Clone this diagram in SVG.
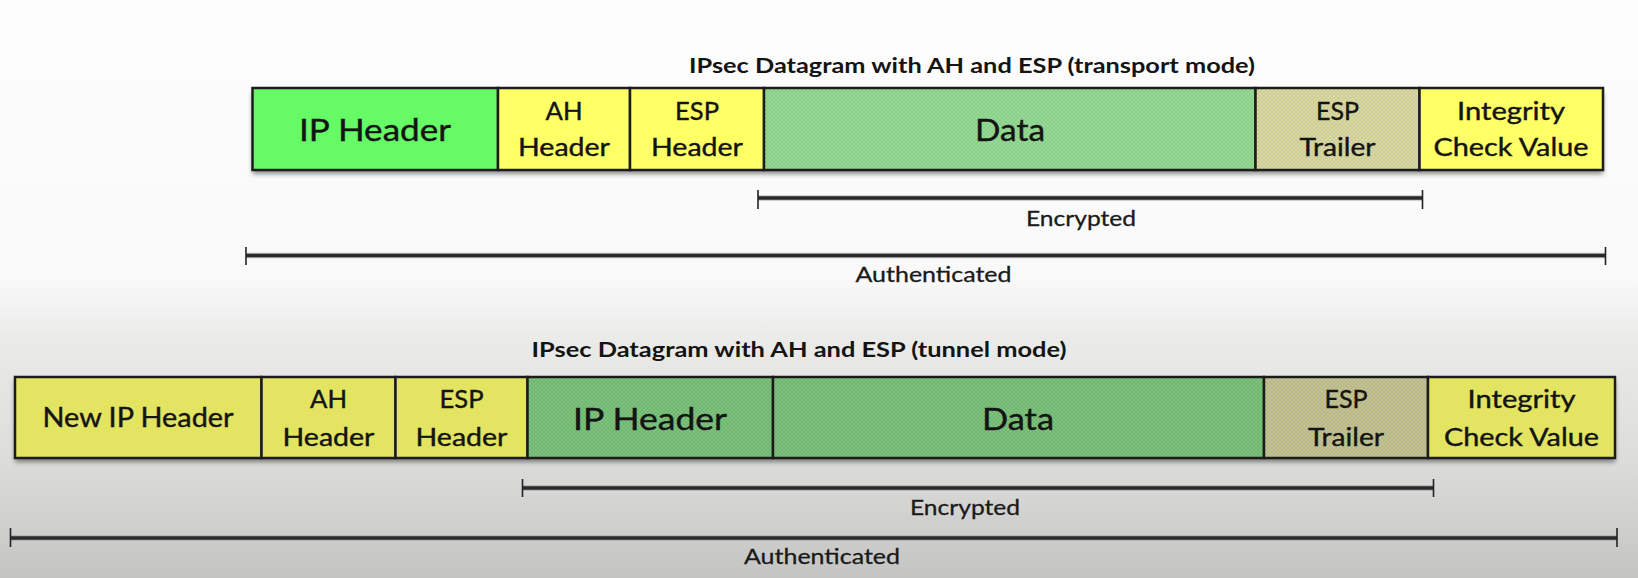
<svg xmlns="http://www.w3.org/2000/svg" width="1638" height="578" viewBox="0 0 1638 578">
<defs>
<linearGradient id="bg" x1="0" y1="0" x2="0" y2="1">
<stop offset="0" stop-color="#fdfdfd"/>
<stop offset="0.48" stop-color="#f9f9f9"/>
<stop offset="0.58" stop-color="#ebecea"/>
<stop offset="0.8" stop-color="#dcdddb"/>
<stop offset="1" stop-color="#c4c5c3"/>
</linearGradient>
<pattern id="pgT" width="4" height="4" patternUnits="userSpaceOnUse"><rect width="4" height="4" fill="#98dc98"/><path d="M0 0L4 4M4 0L0 4" stroke="#82c882" stroke-width="0.8"/></pattern>
<pattern id="pkT" width="4" height="4" patternUnits="userSpaceOnUse"><rect width="4" height="4" fill="#dcdc9c"/><path d="M0 0L4 4M4 0L0 4" stroke="#bcbc9e" stroke-width="0.6"/></pattern>
<pattern id="pgB" width="4" height="4" patternUnits="userSpaceOnUse"><rect width="4" height="4" fill="#7fc57f"/><path d="M0 0L4 4M4 0L0 4" stroke="#6aae6a" stroke-width="0.8"/></pattern>
<pattern id="pkB" width="4" height="4" patternUnits="userSpaceOnUse"><rect width="4" height="4" fill="#c6c68c"/><path d="M0 0L4 4M4 0L0 4" stroke="#a8a892" stroke-width="0.6"/></pattern>
<filter id="sh" x="-5%" y="-20%" width="110%" height="150%">
<feDropShadow dx="0" dy="4" stdDeviation="2.5" flood-color="#000" flood-opacity="0.45"/>
</filter>
<style>
.cell{stroke:#1c1c1c;stroke-width:2.5}
.t{font-family:Lato,"Liberation Sans",sans-serif;fill:#141414;stroke:#141414;stroke-width:0.4;text-anchor:middle}
.big{font-size:30px}
.sm{font-size:25px}
.ttl{font-family:Lato,"Liberation Sans",sans-serif;font-weight:bold;font-size:21px;fill:#141414;text-anchor:middle}
.lbl{font-family:Lato,"Liberation Sans",sans-serif;font-size:21px;fill:#1a1a1a;stroke:#1a1a1a;stroke-width:0.3;text-anchor:middle}
.bar{stroke:#2a2a2a;stroke-width:3.5;fill:none}
.barhi{stroke:#888;stroke-width:5.5;fill:none;opacity:0.5}
.tick{stroke:#222;stroke-width:1.6}
</style>
</defs>
<rect width="1638" height="578" fill="url(#bg)"/>

<text class="ttl" x="972" y="73" textLength="566" lengthAdjust="spacingAndGlyphs">IPsec Datagram with AH and ESP (transport mode)</text>
<g id="transport-row">
<rect x="252.5" y="88" width="1350.5" height="82" fill="#333" filter="url(#sh)"/>
<g id="t-ipheader"><rect class="cell" x="252.5" y="88" width="245.5" height="82" fill="#66fb66"/><text class="t big" x="375" y="141" textLength="152" lengthAdjust="spacingAndGlyphs">IP Header</text></g>
<g id="t-ahheader"><rect class="cell" x="498" y="88" width="132" height="82" fill="#ffff66"/><text class="t sm" x="564" y="120" textLength="37" lengthAdjust="spacingAndGlyphs">AH</text><text class="t sm" x="564" y="156" textLength="92" lengthAdjust="spacingAndGlyphs">Header</text></g>
<g id="t-espheader"><rect class="cell" x="630" y="88" width="134" height="82" fill="#ffff66"/><text class="t sm" x="697" y="120" textLength="44" lengthAdjust="spacingAndGlyphs">ESP</text><text class="t sm" x="697" y="156" textLength="92" lengthAdjust="spacingAndGlyphs">Header</text></g>
<g id="t-data"><rect class="cell" x="764" y="88" width="491.5" height="82" fill="url(#pgT)"/><text class="t big" x="1010" y="141" textLength="70" lengthAdjust="spacingAndGlyphs">Data</text></g>
<g id="t-esptrailer"><rect class="cell" x="1255.5" y="88" width="164" height="82" fill="url(#pkT)"/><text class="t sm" x="1337.5" y="120" textLength="43" lengthAdjust="spacingAndGlyphs">ESP</text><text class="t sm" x="1337.5" y="156" textLength="76" lengthAdjust="spacingAndGlyphs">Trailer</text></g>
<g id="t-icv"><rect class="cell" x="1419.5" y="88" width="183.5" height="82" fill="#ffff66"/><text class="t sm" x="1511" y="120" textLength="108" lengthAdjust="spacingAndGlyphs">Integrity</text><text class="t sm" x="1511" y="156" textLength="155" lengthAdjust="spacingAndGlyphs">Check Value</text></g>
</g>

<text class="ttl" x="799" y="356.5" textLength="535" lengthAdjust="spacingAndGlyphs">IPsec Datagram with AH and ESP (tunnel mode)</text>
<g id="tunnel-row">
<rect x="15" y="377" width="1600" height="81" fill="#333" filter="url(#sh)"/>
<g id="u-newipheader"><rect class="cell" x="15" y="377" width="246.5" height="81" fill="#e3e462"/><text class="t" style="font-size:26px" x="138" y="427" textLength="191" lengthAdjust="spacingAndGlyphs">New IP Header</text></g>
<g id="u-ahheader"><rect class="cell" x="261.5" y="377" width="134" height="81" fill="#e3e462"/><text class="t sm" x="328.5" y="408" textLength="37" lengthAdjust="spacingAndGlyphs">AH</text><text class="t sm" x="328.5" y="446" textLength="92" lengthAdjust="spacingAndGlyphs">Header</text></g>
<g id="u-espheader"><rect class="cell" x="395.5" y="377" width="132" height="81" fill="#e3e462"/><text class="t sm" x="461.5" y="408" textLength="44" lengthAdjust="spacingAndGlyphs">ESP</text><text class="t sm" x="461.5" y="446" textLength="92" lengthAdjust="spacingAndGlyphs">Header</text></g>
<g id="u-ipheader"><rect class="cell" x="527.5" y="377" width="245.5" height="81" fill="url(#pgB)"/><text class="t big" x="650" y="430" textLength="154" lengthAdjust="spacingAndGlyphs">IP Header</text></g>
<g id="u-data"><rect class="cell" x="773" y="377" width="491" height="81" fill="url(#pgB)"/><text class="t big" x="1018" y="430" textLength="72" lengthAdjust="spacingAndGlyphs">Data</text></g>
<g id="u-esptrailer"><rect class="cell" x="1264" y="377" width="164" height="81" fill="url(#pkB)"/><text class="t sm" x="1346" y="408" textLength="43" lengthAdjust="spacingAndGlyphs">ESP</text><text class="t sm" x="1346" y="446" textLength="76" lengthAdjust="spacingAndGlyphs">Trailer</text></g>
<g id="u-icv"><rect class="cell" x="1428" y="377" width="187" height="81" fill="#e3e462"/><text class="t sm" x="1521.5" y="408" textLength="108" lengthAdjust="spacingAndGlyphs">Integrity</text><text class="t sm" x="1521.5" y="446" textLength="155" lengthAdjust="spacingAndGlyphs">Check Value</text></g>
</g>

<g id="connectors">
<g id="t-encrypted">
<line class="barhi" x1="758" y1="198" x2="1422.5" y2="198"/><line class="bar" x1="758" y1="198" x2="1422.5" y2="198"/>
<line class="tick" x1="758" y1="190" x2="758" y2="209"/><line class="tick" x1="1422.5" y1="190" x2="1422.5" y2="209"/>
<text class="lbl" x="1081" y="226" textLength="110" lengthAdjust="spacingAndGlyphs">Encrypted</text>
</g>
<g id="t-authenticated">
<line class="barhi" x1="246" y1="255.5" x2="1605.5" y2="255.5"/><line class="bar" x1="246" y1="255.5" x2="1605.5" y2="255.5"/>
<line class="tick" x1="246" y1="247" x2="246" y2="265"/><line class="tick" x1="1605.5" y1="247" x2="1605.5" y2="265"/>
<text class="lbl" x="933.5" y="281.5" textLength="156" lengthAdjust="spacingAndGlyphs">Authenticated</text>
</g>
<g id="u-encrypted">
<line class="barhi" x1="522.5" y1="488" x2="1433.5" y2="488"/><line class="bar" x1="522.5" y1="488" x2="1433.5" y2="488"/>
<line class="tick" x1="522.5" y1="479" x2="522.5" y2="497"/><line class="tick" x1="1433.5" y1="479" x2="1433.5" y2="497"/>
<text class="lbl" x="965" y="515" textLength="110" lengthAdjust="spacingAndGlyphs">Encrypted</text>
</g>
<g id="u-authenticated">
<line class="barhi" x1="10.5" y1="538" x2="1617" y2="538"/><line class="bar" x1="10.5" y1="538" x2="1617" y2="538"/>
<line class="tick" x1="10.5" y1="528" x2="10.5" y2="547"/><line class="tick" x1="1617" y1="528" x2="1617" y2="547"/>
<text class="lbl" x="822" y="564" textLength="156" lengthAdjust="spacingAndGlyphs">Authenticated</text>
</g>
</g>
</svg>
